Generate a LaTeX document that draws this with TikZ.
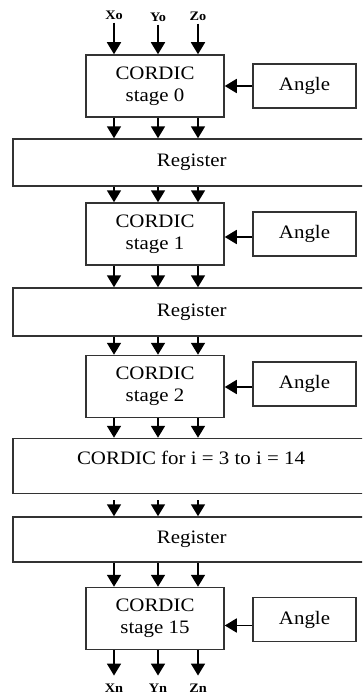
\documentclass[tikz,border=0pt]{standalone}
\usepackage{fontspec}
\setmainfont{Liberation Serif}[FakeStretch=1.1]
\usetikzlibrary{arrows.meta}
\definecolor{boxgray}{HTML}{333333}
\begin{document}
\begin{tikzpicture}[x=1pt,y=-1pt,
  box/.style={draw=boxgray, line width=1.5pt, inner sep=0pt, align=center,
              font=\fontsize{19}{22}\selectfont},
  stagebox/.style={box, minimum width=138pt, minimum height=62pt},
  anglebox/.style={box, minimum width=103pt, minimum height=44pt},
  widebox/.style={box, minimum width=358pt, anchor=west},
  io/.style={inner sep=0pt, font=\fontsize{13}{14}\selectfont\bfseries},
  arr/.style={line width=1.8pt, -{Triangle[width=14pt,length=12pt]}}]
\useasboundingbox (0,0) rectangle (362,698);
\clip (0,0) rectangle (362,698);
\fill[white] (0,0) rectangle (362,698);
% columns
\coordinate (c1) at (114,0);
\coordinate (c2) at (158,0);
\coordinate (c3) at (198,0);
% inputs
\node[io] (xo) at (114,15) {Xo};
\node[io] (yo) at (158,17) {Yo};
\node[io] (zo) at (198,16) {Zo};
% stage 0
\node[stagebox] (s0) at (155,86) {CORDIC\\stage 0};
\node[anglebox] (a0) at (304.5,86) {Angle};
\node[widebox, minimum height=47pt] (r1) at (12,162.5) {Register};
% stage 1
\node[stagebox] (s1) at (155,234) {CORDIC\\stage 1};
\node[anglebox] (a1) at (304.5,234) {Angle};
\node[widebox, minimum height=48pt] (r2) at (12,312) {Register};
% stage 2
\node[stagebox] (s2) at (155,386.5) {CORDIC\\stage 2};
\node[anglebox] (a2) at (304.5,384) {Angle};
\node[widebox, minimum height=55pt] (cf) at (12,466) {};
\node[inner sep=0pt, font=\fontsize{19}{22}\selectfont] (cft) at (191,458) {CORDIC for i = 3 to i = 14};
\node[widebox, minimum height=45pt] (r3) at (12,539.5) {Register};
% stage 15
\node[stagebox] (s15) at (155,618.5) {CORDIC\\stage 15};
\node[anglebox] (a15) at (304.5,619.5) {Angle};
% outputs
\node[io] (xn) at (114,688) {Xn};
\node[io] (yn) at (158,688) {Yn};
\node[io] (zn) at (198,688) {Zn};
% input arrows
\foreach \n in {xo,yo,zo}
  \draw[arr] ([yshift=-3pt]\n.south) -- (s0.north -| \n);
% vertical arrows between blocks
\coordinate (cfo) at ([yshift=-6pt]cf.south);
\foreach \c in {c1,c2,c3}{
  \draw[arr] (s0.south -| \c) -- (r1.north -| \c);
  \draw[arr] (r1.south -| \c) -- (s1.north -| \c);
  \draw[arr] (s1.south -| \c) -- (r2.north -| \c);
  \draw[arr] (r2.south -| \c) -- (s2.north -| \c);
  \draw[arr] (s2.south -| \c) -- (cf.north -| \c);
  \draw[arr] (cfo -| \c) -- (r3.north -| \c);
  \draw[arr] (r3.south -| \c) -- (s15.north -| \c);
}
\foreach \n in {xn,yn,zn}
  \draw[arr] (s15.south -| \n) -- ([yshift=8pt]\n.north);
% angle arrows
\coordinate (p0) at (a0.west);
\coordinate (p1) at ([yshift=-3pt]a1.west);
\coordinate (p2) at ([yshift=-3pt]a2.west);
\coordinate (p3) at ([yshift=-6pt]a15.west);
\draw[arr] (p0) -- (s0.east |- p0);
\draw[arr] (p1) -- (s1.east |- p1);
\draw[arr] (p2) -- (s2.east |- p2);
\draw[arr] (p3) -- (s15.east |- p3);
\end{tikzpicture}
\end{document}
